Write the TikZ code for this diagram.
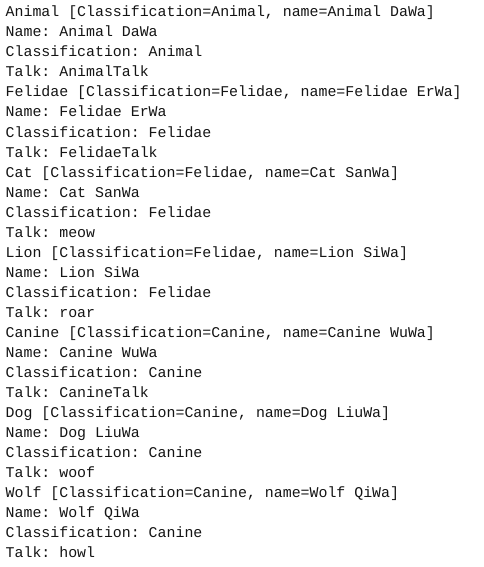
\documentclass[tikz,border=0pt]{standalone}
\usepackage{fontspec}
\setmonofont{Liberation Mono}
\usetikzlibrary{positioning}
\definecolor{konsole}{RGB}{20,20,20}

\begin{document}
\begin{tikzpicture}[x=1pt,y=-1pt,
	zeile/.style={anchor=base west, inner sep=0pt, konsole, font=\ttfamily\fontsize{14.9}{20}\selectfont}]

	\useasboundingbox (0,0) rectangle (483,567);

	\foreach \txt [count=\i] in {
		{Animal [Classification=Animal, name=Animal DaWa]},
		{Name: Animal DaWa},
		{Classification: Animal},
		{Talk: AnimalTalk},
		{Felidae [Classification=Felidae, name=Felidae ErWa]},
		{Name: Felidae ErWa},
		{Classification: Felidae},
		{Talk: FelidaeTalk},
		{Cat [Classification=Felidae, name=Cat SanWa]},
		{Name: Cat SanWa},
		{Classification: Felidae},
		{Talk: meow},
		{Lion [Classification=Felidae, name=Lion SiWa]},
		{Name: Lion SiWa},
		{Classification: Felidae},
		{Talk: roar},
		{Canine [Classification=Canine, name=Canine WuWa]},
		{Name: Canine WuWa},
		{Classification: Canine},
		{Talk: CanineTalk},
		{Dog [Classification=Canine, name=Dog LiuWa]},
		{Name: Dog LiuWa},
		{Classification: Canine},
		{Talk: woof},
		{Wolf [Classification=Canine, name=Wolf QiWa]},
		{Name: Wolf QiWa},
		{Classification: Canine},
		{Talk: howl}}{
		\node[zeile] (zeile\i) at (5.5,{17+20*(\i-1)}) {\txt};
	}

\end{tikzpicture}
\end{document}
